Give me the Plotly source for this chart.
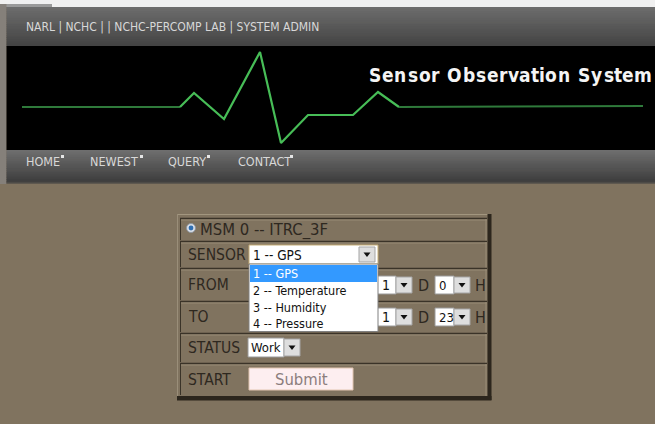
import plotly.graph_objects as go

W, H = 655, 424

# ---- content ----
header_text = "NARL | NCHC | | NCHC-PERCOMP LAB | SYSTEM ADMIN"
title_text = "Sensor Observation System"
nav_items = ["HOME", "NEWEST", "QUERY", "CONTACT"]
nav_left = [24, 88, 166, 236]
nav_mark = [61, 140, 207, 290]

ecg_x = [22, 180, 194, 224, 260, 281, 308, 353, 378, 399, 643]
ecg_y = [107, 107, 93, 119, 52, 143, 115, 115, 92, 107, 106]

station_label = "MSM 0 -- ITRC_3F"
row_labels = ["SENSOR", "FROM", "TO", "STATUS", "START"]
sensor_options = ["1 -- GPS", "2 -- Temperature", "3 -- Humidity", "4 -- Pressure"]
day_values = ["1", "1"]
hour_values = ["0", "23"]
status_value = "Work"
button_text = "Submit"

# ---- style ----
FONT = "Liberation Sans Narrow, Arial Narrow, DejaVu Sans Condensed, Liberation Sans, Arial, sans-serif"
TAN = "#80735f"
LABEL = "#2e281f"

shapes = []
annos = []


def hex2rgb(h):
    h = h.lstrip("#")
    return tuple(int(h[i:i + 2], 16) for i in (0, 2, 4))


def rect(x0, y0, x1, y1, fill, line=None, lw=1, layer="above"):
    d = dict(type="rect", xref="x", yref="y", x0=x0, y0=y0, x1=x1, y1=y1,
             fillcolor=fill, layer=layer, line=dict(width=0))
    if line:
        d["line"] = dict(color=line, width=lw)
    shapes.append(d)


def hline(x0, x1, y, color, lw=1):
    shapes.append(dict(type="line", xref="x", yref="y", x0=x0, x1=x1, y0=y, y1=y,
                       line=dict(color=color, width=lw)))


def vline(x, y0, y1, color, lw=1):
    shapes.append(dict(type="line", xref="x", yref="y", x0=x, x1=x, y0=y0, y1=y1,
                       line=dict(color=color, width=lw)))


def vgrad(x0, x1, y0, y1, ctop, cbot, n=18, layer="below"):
    a, b = hex2rgb(ctop), hex2rgb(cbot)
    h = (y1 - y0) / n
    for i in range(n):
        t = i / (n - 1)
        c = tuple(round(a[k] + (b[k] - a[k]) * t) for k in range(3))
        rect(x0, y0 + i * h, x1, y0 + (i + 1) * h + 0.6, "rgb(%d,%d,%d)" % c, layer=layer)


def text(x, y, s, size, color, xanchor="left", bold=False, family=FONT):
    annos.append(dict(x=x, y=y, xref="x", yref="y", text=s, showarrow=False,
                      xanchor=xanchor, yanchor="middle",
                      font=dict(family=family, size=size, color=color,
                                weight="bold" if bold else "normal")))


def tri(cx, cy):
    shapes.append(dict(type="path", xref="x", yref="y",
                       path=f"M {cx-3.5},{cy-2} L {cx+3.5},{cy-2} L {cx},{cy+2.5} Z",
                       fillcolor="#111111", line=dict(width=0)))


def arrow_btn(x0, y0, x1, y1):
    rect(x0, y0, x1, y1, "#dedede", "#a5a5a5", 1)
    tri((x0 + x1) / 2, (y0 + y1) / 2)


# ---- page chrome (below the ECG trace) ----
rect(0, 0, W, 7, "#f0f0f0", layer="below")
rect(6, 4, 52, 7, "#9a9a9a", layer="below")
rect(0, 4, 6.5, 184, "#85807a", layer="below")
vgrad(6.5, W, 7, 46, "#6c6c6c", "#444444")
rect(6.5, 46, W, 150, "#000000", layer="below")
vgrad(6.5, W, 150, 183, "#6e6e6e", "#3c3c3c")
hline(6.5, W, 183, "#5e5a52", 1)

text(24, 27, header_text, 12, "#d8d8d8")
for name, xl, xm in zip(nav_items, nav_left, nav_mark):
    text(xl, 161, name, 12.5, "#d8d8d8")
    rect(xm, 155, xm + 3, 158, "#e6e6e6")

# title with letter spacing (one glyph per annotation)
aw = {"S": .667, "e": .556, "n": .611, "s": .556, "o": .611, "r": .389, " ": .278,
      "O": .778, "b": .611, "v": .556, "a": .556, "t": .333, "i": .278, "y": .556, "m": .889}
tsize, gap = 19, 1.2
cx = 369.0
for ch in title_text:
    w = aw.get(ch, .556) * tsize
    if ch != " ":
        annos.append(dict(x=cx + w / 2, y=74.5, xref="x", yref="y", text=ch, showarrow=False,
                          xanchor="center", yanchor="middle",
                          font=dict(family=FONT, size=tsize, color="#f4f4f4", weight="bold")))
    cx += w + gap

# ---- form panel ----
PX0, PX1 = 180, 487
rows = [218, 241, 268, 301, 333, 363, 396]
hline(177, 491, 214.5, "#a2967f", 1)
vline(177.5, 214, 400, "#9a8e79", 1)
rect(487.5, 214, 491.5, 400, "#2c261d")
rect(177, 396, 491.5, 400.5, "#2c261d")
for i in range(len(rows) - 1):
    y0, y1 = rows[i], rows[i + 1]
    hline(PX0, PX1, y0 + 0.5, "#3a3328", 1.5)
    hline(PX0, PX1, y0 + 2, "#978b76", 1)
    vline(PX0 + 0.5, y0, y1 - 1, "#3a3328", 1)
    vline(PX1 - 1, y0 + 1, y1, "#9a8e79", 1)

# radio + station
shapes.append(dict(type="circle", xref="x", yref="y", x0=186.5, x1=195.5, y0=223.5, y1=232.5,
                   fillcolor="#d9dee6", line=dict(color="#8a94a0", width=0.8)))
shapes.append(dict(type="circle", xref="x", yref="y", x0=188.6, x1=193.4, y0=225.6, y1=230.4,
                   fillcolor="#2f6fb3", line=dict(width=0)))
text(198, 229.5, station_label, 16.5, LABEL)

label_y = [254.5, 285, 316.5, 347.5, 379.5]
for lab, ly in zip(row_labels, label_y):
    text(186, ly, lab, 15.5, LABEL)

# FROM / TO selects
for ry, dv, hv in zip([276, 308], day_values, hour_values):
    rect(370, ry, 396, ry + 18, "#ffffff", "#9a9a9a", 1)
    text(380, ry + 9, dv, 14, "#111111")
    arrow_btn(396, ry + 1, 412, ry + 17)
    text(423, ry + 9, "D", 16, LABEL, xanchor="center")
    rect(435, ry, 454, ry + 18, "#ffffff", "#9a9a9a", 1)
    text(437, ry + 9, hv, 13, "#111111")
    arrow_btn(454, ry + 1, 470, ry + 17)
    text(480.5, ry + 9, "H", 16, LABEL, xanchor="center")

# sensor select
rect(249, 245, 378, 264, "#ffffff", "#c6ae78", 1)
text(251, 255, sensor_options[0], 13.5, "#111111")
arrow_btn(359, 247, 375, 262)

# dropdown list
rect(249, 264, 378, 331.5, "#ffffff", "#808080", 1)
rect(250, 265, 377, 282, "#3399ff")
opt_y = [273.5, 290.5, 307, 323.5]
for k, (opt, oy) in enumerate(zip(sensor_options, opt_y)):
    text(251, oy, opt, 12.5, "#ffffff" if k == 0 else "#111111")

# status select
rect(248, 338, 284, 357, "#ffffff", "#9a9a9a", 1)
text(249, 347.5, status_value, 13, "#111111")
arrow_btn(284, 339, 300, 356)

# submit button
rect(249, 368, 353, 390, "#fdeef0", "#e2c6b2", 1)
text(301, 379, button_text, 16.5, "#8b7d7d", xanchor="center")

# ---- figure ----
fig = go.Figure()
fig.add_trace(go.Scatter(x=ecg_x[:2], y=ecg_y[:2], mode="lines",
                         line=dict(color="#2f7a3b", width=2), hoverinfo="skip"))
fig.add_trace(go.Scatter(x=ecg_x[1:-1], y=ecg_y[1:-1], mode="lines",
                         line=dict(color="#47bd57", width=2.2), hoverinfo="skip"))
fig.add_trace(go.Scatter(x=ecg_x[-2:], y=ecg_y[-2:], mode="lines",
                         line=dict(color="#2f7a3b", width=2), hoverinfo="skip"))

fig.update_layout(
    width=W, height=H, margin=dict(l=0, r=0, t=0, b=0),
    paper_bgcolor=TAN, plot_bgcolor=TAN, showlegend=False, hovermode=False,
    xaxis=dict(range=[0, W], visible=False, fixedrange=True),
    yaxis=dict(range=[H, 0], visible=False, fixedrange=True),
    shapes=shapes,
    annotations=annos,
)
fig.write_html("out.html", config={"displayModeBar": False},
               post_script="document.body.style.margin='0';")
